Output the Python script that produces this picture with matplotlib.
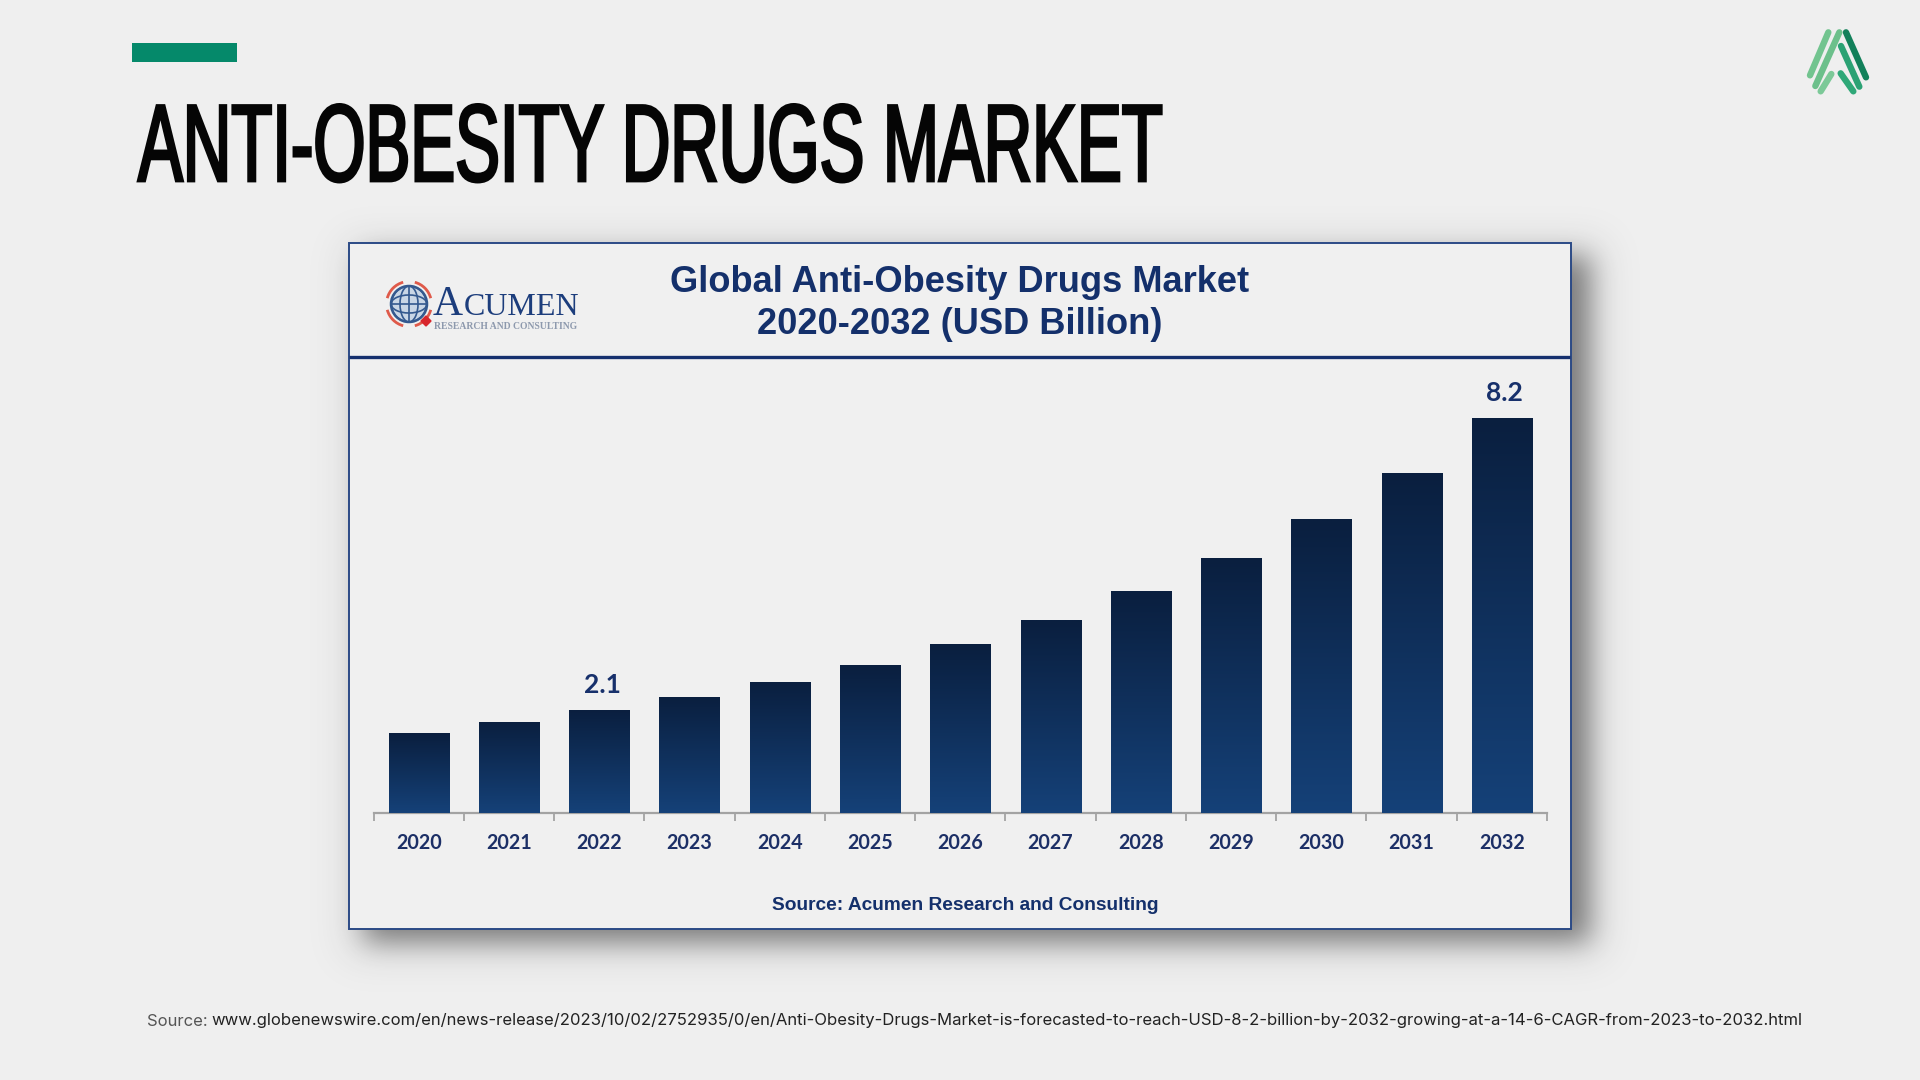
import math
import numpy as np
import matplotlib
matplotlib.use("Agg")
import matplotlib.pyplot as plt
import matplotlib.patheffects as pe
from matplotlib.text import Text
from matplotlib.transforms import Affine2D, Bbox
from matplotlib.patches import Rectangle, Polygon, Circle, Arc, Ellipse

# ---- data ----
years = ["2020", "2021", "2022", "2023", "2024", "2025", "2026",
         "2027", "2028", "2029", "2030", "2031", "2032"]
market_values = [1.66, 1.89, 2.14, 2.41, 2.72, 3.07, 3.50,
                 4.00, 4.60, 5.29, 6.10, 7.05, 8.20]
shown_labels = {2: "2.1", 12: "8.2"}
slide_title = "ANTI-OBESITY DRUGS MARKET"
chart_title = ["Global Anti-Obesity Drugs Market", "2020-2032 (USD Billion)"]
chart_source = "Source: Acumen Research and Consulting"
footer_lead = "Source:"
footer_url = ("www.globenewswire.com/en/news-release/2023/10/02/2752935/0/en/"
              "Anti-Obesity-Drugs-Market-is-forecasted-to-reach-USD-8-2-billion-by-2032-"
              "growing-at-a-14-6-CAGR-from-2023-to-2032.html")

BG = "#efefef"
NAVY = "#14306b"

fig = plt.figure(figsize=(19.2, 10.8), dpi=100, facecolor=BG)
page = fig.add_axes([0, 0, 1, 1])
page.set_xlim(0, 1920)
page.set_ylim(1080, 0)
page.axis("off")


class HScale(pe.AbstractPathEffect):
    """Draws glyphs horizontally condensed about x0 (display px), slightly fattened."""
    def __init__(self, x0, sx, fatten=0.0):
        super().__init__()
        self.x0, self.sx, self.fatten = x0, sx, fatten

    def draw_path(self, renderer, gc, tpath, affine, rgbFace=None):
        aff = affine + Affine2D().translate(-self.x0, 0).scale(self.sx, 1).translate(self.x0, 0)
        gc0 = renderer.new_gc()
        gc0.copy_properties(gc)
        if self.fatten:
            gc0.set_linewidth(self.fatten)
            gc0.set_foreground(rgbFace)
            gc0.set_joinstyle("miter")
        renderer.draw_path(gc0, tpath, aff, rgbFace)
        gc0.restore()


class CondensedText(Text):
    """A real text object whose extent reflects its condensed drawing."""
    sx = 1.0
    x0 = 0.0

    def get_window_extent(self, renderer=None, dpi=None):
        b = super().get_window_extent(renderer, dpi)
        return Bbox([[self.x0 + (b.x0 - self.x0) * self.sx, b.y0],
                     [self.x0 + (b.x1 - self.x0) * self.sx, b.y1]])


# accent bar and slide title
page.add_patch(Rectangle((132, 43), 105, 18.5, color="#05896a", lw=0))
title = CondensedText(138, 181, slide_title, fontsize=79, fontweight="normal",
                      family="Liberation Sans", color="#050505", va="baseline", ha="left",
                      transform=page.transData)
page.add_artist(title)
fig.canvas.draw()
plain = Text.get_window_extent(title, fig.canvas.get_renderer())
sx = 1025.0 / plain.width
title.sx, title.x0 = sx, 138.0
title.set_path_effects([HScale(138.0, sx, fatten=2.0)])

# panel drop shadow
xs = np.arange(0, 1920) + 0.5
ys = np.arange(0, 1080) + 0.5
erf = np.vectorize(math.erf)


def soft_box(v, a, b, s):
    return 0.5 * (erf((v - a) / (s * 1.414)) - erf((v - b) / (s * 1.414)))


shadow = np.outer(soft_box(ys, 256, 942, 14), soft_box(xs, 364, 1590, 14))
soft = np.outer(soft_box(ys, 236, 962, 20), soft_box(xs, 340, 1610, 20))
alpha = np.clip(0.50 * shadow + 0.06 * soft, 0, 1)
rgba = np.zeros((1080, 1920, 4))
rgba[..., :3] = 0.12
rgba[..., 3] = alpha
page.imshow(rgba, extent=(0, 1920, 1080, 0), zorder=1, aspect="auto", interpolation="bilinear")
page.set_xlim(0, 1920)
page.set_ylim(1080, 0)

# panel
page.add_patch(Rectangle((348.5, 242.5), 1222, 686, facecolor="#f0f0f0",
                         edgecolor="#2b4a86", lw=1.4, zorder=2))
page.plot([349, 1570], [356.5, 356.5], color="#15306e", lw=2.4, zorder=3, solid_capstyle="butt")
page.text(960, 282, chart_title[0], fontsize=26.1, fontweight="bold", family="Liberation Sans",
          color=NAVY, ha="center", va="center", zorder=4)
page.text(960, 324, chart_title[1], fontsize=26.1, fontweight="bold", family="Liberation Sans",
          color=NAVY, ha="center", va="center", zorder=4)
page.text(965, 905, chart_source, fontsize=13.8, fontweight="bold", family="Liberation Sans",
          color=NAVY, ha="center", va="center", zorder=4)

# Acumen logo
for a1, a2 in [(-75, -15), (15, 75), (105, 165), (195, 255)]:
    page.add_patch(Arc((409, 304), 45, 45, theta1=a1, theta2=a2, color="#df5a4a", lw=2.0, zorder=4))
page.add_patch(Circle((409, 304), 18, facecolor="#c9d6e6", edgecolor="#34598f", lw=1.8, zorder=4))
for w in (35, 18):
    page.add_patch(Ellipse((409, 304), w, 36, fill=False, edgecolor="#34598f", lw=1.2, zorder=5))
page.add_patch(Ellipse((409, 304), 36, 18, fill=False, edgecolor="#34598f", lw=1.2, zorder=5))
page.plot([391, 427], [304, 304], color="#34598f", lw=1.2, zorder=5)
page.plot([409, 409], [286, 322], color="#34598f", lw=1.2, zorder=5)
page.add_patch(Polygon([(426, 316), (431, 321), (426, 326), (421, 321)], color="#d8262c", zorder=6))
page.text(433, 315, "A", fontsize=30, family="Liberation Serif", color="#1c3d7c", ha="left",
          va="baseline", zorder=5)
page.text(463.5, 315, "CUMEN", fontsize=23, family="Liberation Serif", color="#1c3d7c", ha="left",
          va="baseline", zorder=5)
page.text(434, 329, "RESEARCH AND CONSULTING", fontsize=6.9, family="Liberation Serif", fontweight="bold",
          color="#8d99ad", ha="left", va="baseline", zorder=5)

# corner logo
for (x1, y1, x2, y2), col in [
    ((205, 97, 150, 226), "#72c48f"),
    ((238, 97, 166, 258), "#6cc08b"),
    ((214, 222, 182, 274), "#7cc998"),
    ((258, 97, 318, 232), "#12805a"),
    ((243, 138, 298, 260), "#2ba274"),
    ((242, 220, 280, 274), "#2fa878"),
]:
    page.plot([1760 + x1 / 3, 1760 + x2 / 3], [y1 / 3, y2 / 3], color=col, lw=4.6,
              solid_capstyle="round", zorder=3)

# bar chart axes: 48.17 px per USD billion, baseline at y=813
px_per_unit = 395 / 8.2
ax = fig.add_axes([373.5 / 1920, (1080 - 813) / 1080, 1173.5 / 1920, 500 / 1080], zorder=5)
ax.patch.set_alpha(0)
positions = np.arange(len(years))
ax.set_xlim(-0.5, len(years) - 0.5)
ax.set_ylim(0, 500 / px_per_unit)
bars = ax.bar(positions, market_values, width=0.665, color="#12305c", edgecolor="none", zorder=2)
gradient = np.zeros((64, 1, 3))
top_c = np.array(matplotlib.colors.to_rgb("#0a1f3f"))
bot_c = np.array(matplotlib.colors.to_rgb("#154178"))
t = np.linspace(0, 1, 64)[:, None]
gradient[:, 0, :] = top_c * (1 - t) + bot_c * t
for b in bars:
    im = ax.imshow(gradient, extent=(b.get_x(), b.get_x() + b.get_width(), 0, b.get_height()),
                   aspect="auto", zorder=3, interpolation="bilinear")
    im.set_clip_path(b)
ax.set_xlim(-0.5, len(years) - 0.5)
ax.set_ylim(0, 500 / px_per_unit)

for sp in ("top", "left", "right"):
    ax.spines[sp].set_visible(False)
ax.spines["bottom"].set_color("#a3a3a3")
ax.spines["bottom"].set_linewidth(1.6)
ax.yaxis.set_visible(False)
ax.set_xticks(np.arange(len(years) + 1) - 0.5)
ax.set_xticklabels([])
ax.tick_params(axis="x", which="major", length=5.5, width=1.3, color="#a3a3a3", direction="out")
ax.set_xticks(positions, minor=True)
ax.set_xticklabels(years, minor=True, fontsize=14.2, fontweight="bold", family="Lato", color="#1c2f66")
ax.tick_params(axis="x", which="minor", length=0, pad=14.5)

for i, lab in shown_labels.items():
    ax.annotate(lab, xy=(positions[i], market_values[i]), xytext=(2, 9.3), textcoords="offset points",
                ha="center", va="bottom", fontsize=19, fontweight="bold", family="Lato", color="#17306b")

# footer
page.text(147, 1021, footer_lead, fontsize=12.0, family="Inter", color="#555555", ha="left",
          va="center", zorder=4)
page.text(211, 1021, footer_url, fontsize=12.0, family="Inter", color="#222222", ha="left",
          va="center", zorder=4)

fig.savefig("out.png", dpi=100, facecolor=BG)
